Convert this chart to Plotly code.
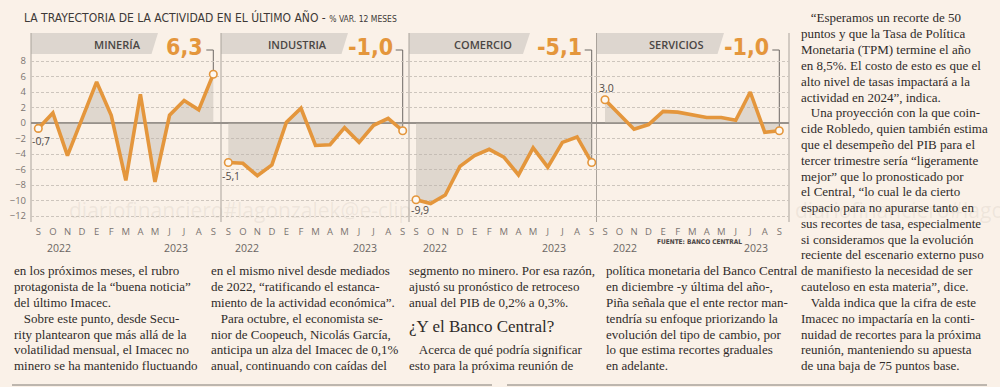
import plotly.graph_objects as go

W, H = 1000, 387
BG = "#faf1e8"
ORANGE = "#e4963c"
FILL = "rgba(185,178,170,0.42)"
TXT = "#2f2b29"
SANS = "Open Sans, Roboto, sans-serif"
NARROW = "Liberation Sans Narrow, DejaVu Sans Condensed, Roboto, sans-serif"
SERIF = "Liberation Serif, DejaVu Serif, serif"

# ---------------- data ----------------
months = ["S", "O", "N", "D", "E", "F", "M", "A", "M", "J", "J", "A", "S"]
sectors = ["MINERÍA", "INDUSTRIA", "COMERCIO", "SERVICIOS"]
mineria = [-0.7, 1.3, -4.2, 0.5, 5.3, 1.0, -7.4, 3.7, -7.6, 1.0, 2.9, 1.7, 6.3]
industria = [-5.1, -5.2, -6.8, -5.4, 0.1, 1.9, -2.9, -2.8, -0.6, -2.5, -0.3, 0.6, -1.0]
comercio = [-9.9, -10.4, -9.3, -5.6, -4.2, -3.4, -4.4, -6.7, -3.2, -5.7, -2.5, -1.8, -5.1]
servicios = [3.0, 1.1, -0.8, -0.2, 1.5, 1.4, 1.0, 0.7, 0.7, 0.35, 4.0, -1.2, -1.0]
series = [mineria, industria, comercio, servicios]
yticks = [-12, -10, -8, -6, -4, -2, 0, 2, 4, 6, 8]
years = ["2022", "2023"]

title_main = "LA TRAYECTORIA DE LA ACTIVIDAD EN EL ÚLTIMO AÑO - "
title_unit = "% VAR. 12 MESES"
source = "FUENTE: BANCO CENTRAL"

col1 = ["en los próximos meses, el rubro",
        "protagonista de la “buena noticia”",
        "del último Imacec.",
        "   Sobre este punto, desde Secu-",
        "rity plantearon que más allá de la",
        "volatilidad mensual, el Imacec no",
        "minero se ha mantenido fluctuando"]
col2 = ["en el mismo nivel desde mediados",
        "de 2022, “ratificando el estanca-",
        "miento de la actividad económica”.",
        "   Para octubre, el economista se-",
        "nior de Coopeuch, Nicolás García,",
        "anticipa un alza del Imacec de 0,1%",
        "anual, continuando con caídas del"]
col3a = ["segmento no minero. Por esa razón,",
         "ajustó su pronóstico de retroceso",
         "anual del PIB de 0,2% a 0,3%."]
col3_head = "¿Y el Banco Central?"
col3b = ["   Acerca de qué podría significar",
         "esto para la próxima reunión de"]
col4 = ["política monetaria del Banco Central",
        "en diciembre -y última del año-,",
        "Piña señala que el ente rector man-",
        "tendría su enfoque priorizando la",
        "evolución del tipo de cambio, por",
        "lo que estima recortes graduales",
        "en adelante."]
col5 = ["   “Esperamos un recorte de 50",
        "puntos y que la Tasa de Política",
        "Monetaria (TPM) termine el año",
        "en 8,5%. El costo de esto es que el",
        "alto nivel de tasas impactará a la",
        "actividad en 2024”, indica.",
        "   Una proyección con la que coin-",
        "cide Robledo, quien también estima",
        "que el desempeño del PIB para el",
        "tercer trimestre sería “ligeramente",
        "mejor” que lo pronosticado por",
        "el Central, “lo cual le da cierto",
        "espacio para no apurarse tanto en",
        "sus recortes de tasa, especialmente",
        "si consideramos que la evolución",
        "reciente del escenario externo puso",
        "de manifiesto la necesidad de ser",
        "cauteloso en esta materia”, dice.",
        "   Valda indica que la cifra de este",
        "Imacec no impactaría en la conti-",
        "nuidad de recortes para la próxima",
        "reunión, manteniendo su apuesta",
        "de una baja de 75 puntos base."]

# ---------------- geometry (pixels) ----------------
def px(x):
    return x / W

def py(y):
    return 1 - y / H

Y0_PX, PPU_Y = 123.0, 7.75
TOP_PX, BOT_PX = 33.0, 224.0
ymax = (Y0_PX - TOP_PX) / PPU_Y
ymin = -(BOT_PX - Y0_PX) / PPU_Y

def yval(ypx):
    return (Y0_PX - ypx) / PPU_Y

# left edge, right edge, first point, last point
panels = [(31, 221, 38.3, 213.3), (221, 409, 228.3, 402.7),
          (409, 596.5, 416, 591.7), (596.5, 789, 605, 779.3)]
band_right = [(158, 151.5), (348, 341.5), (530, 523), (724, 717.5)]
band_text_x = [117, 297, 483, 676]
year_pos = [(1.45, 9.45), (1.3, 9.4), (1.3, 9.4), (1.4, 10.4)]
first_lbl_shift = [(3, -13), (3, -13.5), (4, -10.5), (1, 11.5)]

fig = go.Figure()
shapes, annos = [], []

def fmt(v):
    return f"{v:.1f}".replace(".", ",")

for i, (L, R, F, La) in enumerate(panels):
    ppu = (La - F) / 12
    xr = [(L - F) / ppu, (R - F) / ppu]
    ax = "x" if i == 0 else f"x{i+1}"
    axkey = "xaxis" if i == 0 else f"xaxis{i+1}"
    vals = series[i]
    xs = list(range(len(months)))
    fig.add_trace(go.Scatter(x=xs, y=vals, xaxis=ax, yaxis="y", mode="lines",
                             fill="tozeroy", fillcolor=FILL,
                             line=dict(color=ORANGE, width=3.6),
                             hoverinfo="skip", showlegend=False))
    fig.add_trace(go.Scatter(x=[xs[0], xs[-1]], y=[vals[0], vals[-1]], xaxis=ax, yaxis="y",
                             mode="markers",
                             marker=dict(size=7.5, color="#fdf8f2",
                                         line=dict(color=ORANGE, width=1.6)),
                             hoverinfo="skip", showlegend=False))
    fig.layout[axkey] = dict(domain=[px(L), px(R)], range=xr, anchor="y",
                             tickmode="array", tickvals=xs, ticktext=months,
                             showgrid=False, zeroline=False, showline=False, ticks="",
                             tickfont=dict(family=SANS, size=9.5, color="#7a7470"),
                             fixedrange=True)
    # header band
    r_top, r_bot = band_right[i]
    shapes.append(dict(type="path", xref="paper", yref="paper", layer="below",
                       path=f"M {px(L)},{py(TOP_PX)} L {px(r_top)},{py(TOP_PX)} "
                            f"L {px(r_bot)},{py(54)} L {px(L)},{py(54)} Z",
                       fillcolor="#ddd6cf", line=dict(width=0)))
    annos.append(dict(x=px(band_text_x[i]), y=py(44), xref="paper", yref="paper",
                      xanchor="center", yanchor="middle", text=sectors[i], showarrow=False,
                      font=dict(family=SANS, size=11, color="#4a4644", weight=600)))
    # big last value + leader
    y_lead = yval(50)
    annos.append(dict(x=xs[-1], y=py(47.5), xref=ax, yref="paper", xanchor="right",
                      yanchor="middle", xshift=-8, text=fmt(vals[-1]), showarrow=False,
                      font=dict(family=NARROW, size=23, color=ORANGE, weight=600)))
    shapes.append(dict(type="line", xref=ax, yref="y", x0=xs[-1], x1=xs[-1],
                       y0=vals[-1], y1=y_lead, layer="below",
                       line=dict(color="#6d6864", width=1)))
    shapes.append(dict(type="line", xref=ax, yref="y", x0=xs[-1] - 7 / ppu, x1=xs[-1],
                       y0=y_lead, y1=y_lead, layer="below",
                       line=dict(color="#6d6864", width=1)))
    # first value label
    dx, dy = first_lbl_shift[i]
    annos.append(dict(x=xs[0], y=vals[0], xref=ax, yref="y", xshift=dx, yshift=dy,
                      xanchor="center", yanchor="middle", text=fmt(vals[0]), showarrow=False,
                      font=dict(family=SANS, size=10.5, color="#4f4a47")))
    # years
    for yr, xp in zip(years, year_pos[i]):
        annos.append(dict(x=xp, y=py(248), xref=ax, yref="paper", text=yr,
                          xanchor="center", yanchor="middle", showarrow=False,
                          font=dict(family=SANS, size=10.5, color="#6b6562")))

# dividers
for xd in [31, 221, 409, 596.5, 789]:
    shapes.append(dict(type="line", xref="paper", yref="paper", x0=px(xd), x1=px(xd),
                       y0=py(TOP_PX), y1=py(222), layer="below",
                       line=dict(color="#aaa39c", width=1)))

# bottom rules
for a, b in [(12, 492), (507, 987)]:
    shapes.append(dict(type="line", xref="paper", yref="paper", x0=px(a), x1=px(b),
                       y0=py(385), y1=py(385), line=dict(color="#bdb6ae", width=2)))

# title
annos.append(dict(x=px(22), y=py(18), xref="paper", yref="paper", xanchor="left",
                  yanchor="middle",
                  text=f"{title_main}<span style='font-size:8.5px'>{title_unit}</span>",
                  showarrow=False, font=dict(family=NARROW, size=12, color="#3d3937")))
annos.append(dict(x=px(655), y=py(242), xref="paper", yref="paper", xanchor="left",
                  yanchor="middle", text=source, showarrow=False,
                  font=dict(family=NARROW, size=6.5, color="#4a4644", weight=600)))

# watermarks
for x0, t in [(67, "diariofinanciero#lagonzalek@e-clip"), (793, "diariofinanciero#lago")]:
    annos.append(dict(x=px(x0), y=py(210), xref="paper", yref="paper", xanchor="left",
                      yanchor="middle", text=t, showarrow=False,
                      font=dict(family=SANS, size=21, color="rgba(175,165,155,0.16)")))

# body text
LEAD = 15.8
BODY_SIZE = 13
def add_col(lines, x0, y0, size=BODY_SIZE):
    for k, t in enumerate(lines):
        annos.append(dict(x=px(x0), y=py(y0 + k * LEAD), xref="paper", yref="paper",
                          xanchor="left", yanchor="middle",
                          text=t.replace("   ", "&nbsp;&nbsp;&nbsp;"),
                          showarrow=False, font=dict(family=SERIF, size=size, color=TXT)))

RIGHT_Y = 18
BODY_Y = RIGHT_Y + 16 * LEAD
add_col(col1, 12, BODY_Y)
add_col(col2, 209, BODY_Y)
add_col(col3a, 407, BODY_Y)
annos.append(dict(x=px(407), y=py(BODY_Y + 3.5 * LEAD), xref="paper", yref="paper",
                  xanchor="left", yanchor="middle", text=col3_head, showarrow=False,
                  font=dict(family=SERIF, size=17, color=TXT)))
add_col(col3b, 407, BODY_Y + 5 * LEAD)
add_col(col4, 604, BODY_Y)
add_col(col5, 799, RIGHT_Y)

fig.update_layout(
    width=W, height=H, margin=dict(l=0, r=0, t=0, b=0),
    paper_bgcolor=BG, plot_bgcolor="rgba(0,0,0,0)",
    showlegend=False,
    yaxis=dict(domain=[py(BOT_PX), py(TOP_PX)], range=[ymin, ymax], anchor="x",
               tickmode="array", tickvals=yticks,
               showgrid=True, gridcolor="#cdc5bd", griddash="3px,2px", gridwidth=1,
               zeroline=True, zerolinecolor="#97918b", zerolinewidth=1.5,
               showline=False, ticks="", ticklabelstandoff=4,
               tickfont=dict(family=SANS, size=9.5, color="#7a7470"), fixedrange=True),
    shapes=shapes, annotations=annos,
)

fig.write_html("out.html", config={"displayModeBar": False},
               post_script="document.body.style.margin='0px';"
                           "document.body.style.background='" + BG + "';")
